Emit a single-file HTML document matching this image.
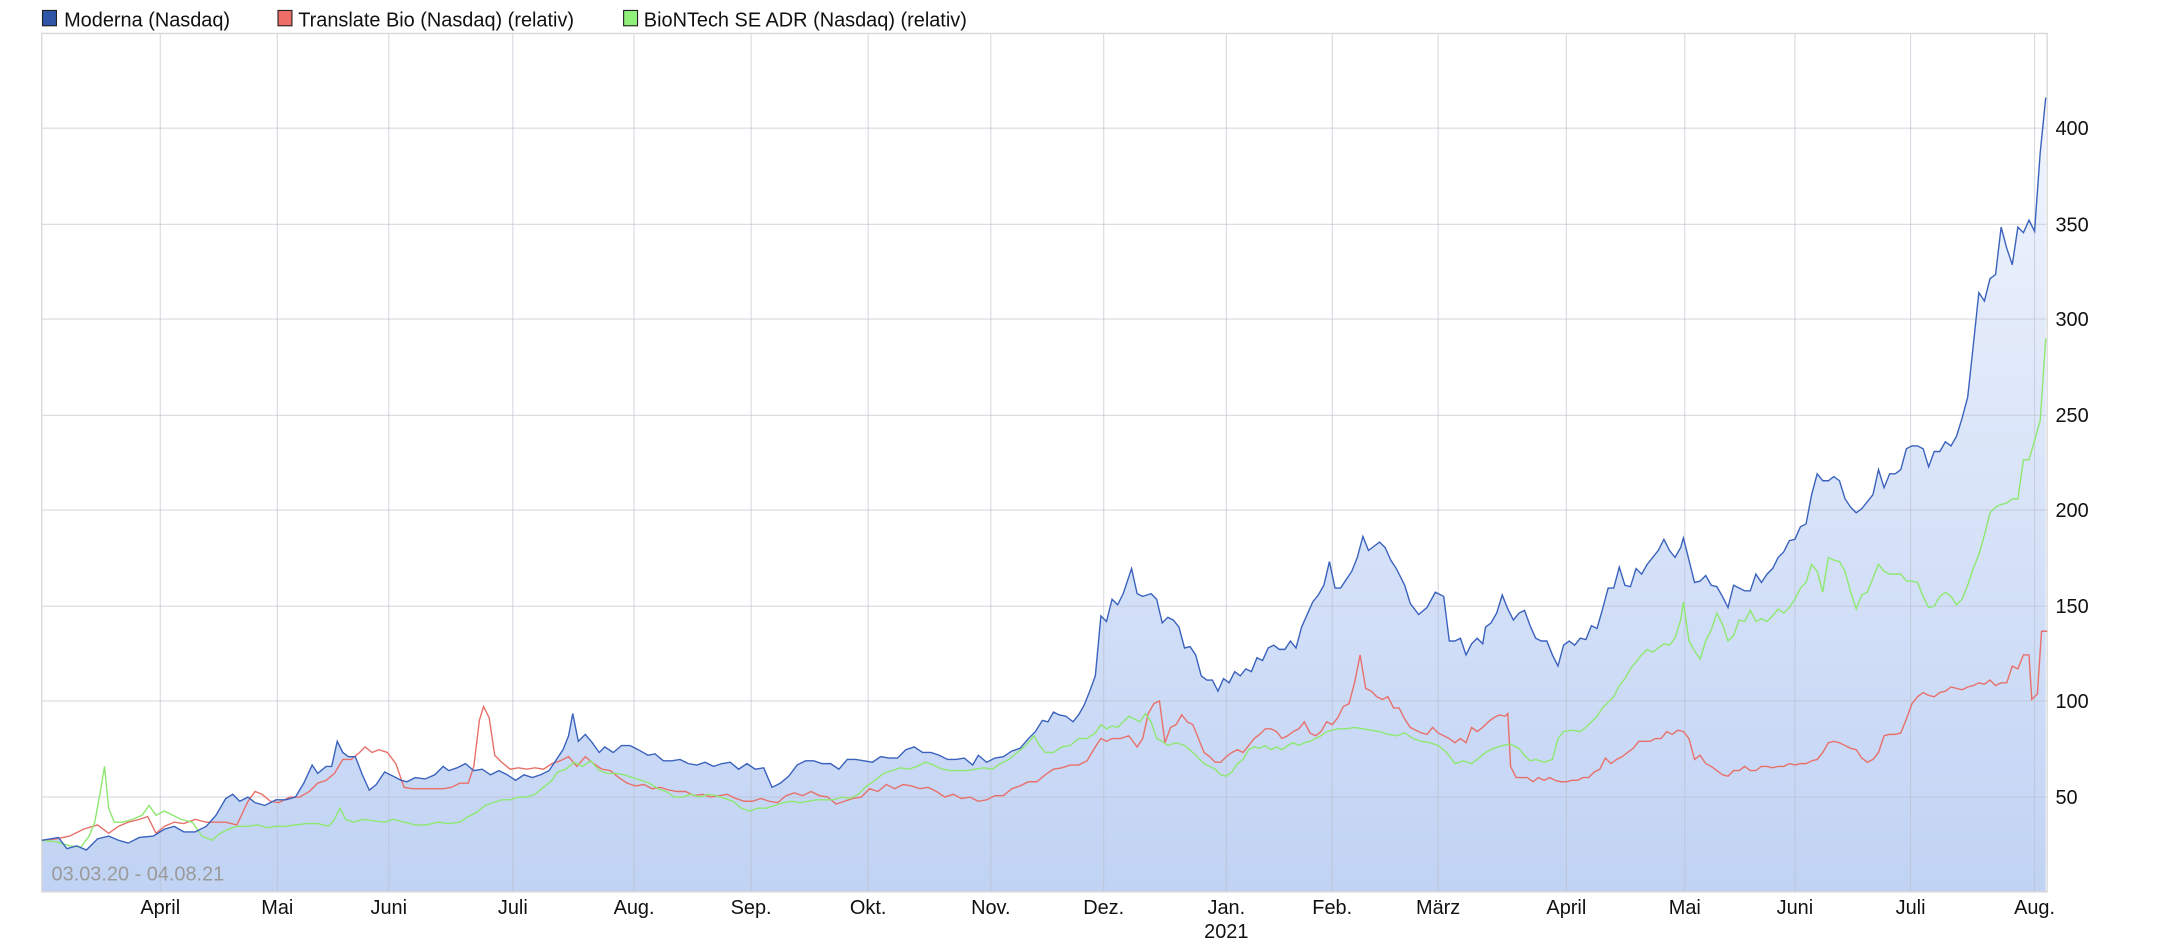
<!DOCTYPE html>
<html><head><meta charset="utf-8"><style>
html,body{margin:0;padding:0;background:#fff;}
svg{display:block;}
text{font-family:"Liberation Sans",sans-serif;}
</style></head><body>
<svg width="2160" height="942" viewBox="0 0 1550 676" preserveAspectRatio="none" xmlns="http://www.w3.org/2000/svg">
<defs>
<linearGradient id="g" x1="0" y1="24" x2="0" y2="640" gradientUnits="userSpaceOnUse">
<stop offset="0" stop-color="#f4f7fe"/>
<stop offset="1" stop-color="#c1d3f4"/>
</linearGradient>
</defs>
<!-- legend -->
<rect x="30.5" y="7.5" width="10" height="11" fill="#2e55a8" stroke="#222" stroke-width="0.8"/>
<text x="46" y="19" font-size="14.3" fill="#111">Moderna (Nasdaq)</text>
<rect x="199.5" y="7.5" width="10" height="11" fill="#ec6e66" stroke="#222" stroke-width="0.8"/>
<text x="214" y="19" font-size="14.3" fill="#111">Translate Bio (Nasdaq) (relativ)</text>
<rect x="447.5" y="7.5" width="10" height="11" fill="#90f07a" stroke="#222" stroke-width="0.8"/>
<text x="462" y="19" font-size="14.3" fill="#111">BioNTech SE ADR (Nasdaq) (relativ)</text>

<!-- fill -->
<polygon fill="url(#g)" points="30,640 30,603 42,601 48,609 55,607 62,610 70,602 78,600 85,603 92,605 100,601 110,600 118,595 125,593 132,597 140,597 148,593 155,585 162,573 167,570 172,575 178,572 183,576 190,578 198,574 205,574 212,572 218,562 224,549 228,555 234,550 238,550 242,532 246,540 250,543 255,543 260,556 265,567 270,563 276,554 282,557 288,560 292,561 298,558 305,559 312,556 318,550 322,553 328,551 334,548 340,553 346,552 352,556 358,553 364,556 370,560 376,556 382,558 388,556 394,553 398,547 404,538 408,528 411,512 415,532 420,527 425,533 430,540 434,536 440,540 446,535 452,535 458,538 465,542 470,541 476,546 482,546 488,545 494,548 500,549 506,547 512,550 518,548 524,547 530,552 536,548 542,552 548,551 554,565 560,562 566,557 572,549 578,546 584,546 590,548 596,548 602,552 608,545 614,545 620,546 626,547 632,543 638,544 644,544 650,538 656,536 662,540 668,540 674,542 680,545 686,545 692,544 698,549 702,542 708,547 714,544 720,543 726,539 732,537 738,530 743,525 748,517 752,518 756,511 760,513 765,514 770,518 774,513 778,506 782,496 786,485 790,442 794,446 798,430 802,434 806,426 812,408 816,426 820,428 826,426 830,430 834,447 838,443 842,445 846,450 850,465 854,464 858,470 862,485 866,488 870,488 874,496 878,487 882,490 886,482 890,485 894,480 898,482 902,472 906,474 910,465 914,463 918,466 922,466 926,460 930,465 934,450 938,441 942,432 946,427 950,420 954,403 958,422 962,422 966,416 970,410 974,400 978,385 982,395 986,392 990,389 994,393 998,402 1002,408 1008,420 1012,433 1018,441 1024,436 1030,425 1036,428 1040,460 1044,460 1048,458 1052,470 1056,462 1060,458 1064,462 1066,450 1070,447 1074,440 1078,427 1082,437 1086,445 1090,440 1094,438 1098,449 1102,458 1106,460 1110,460 1114,470 1118,478 1122,463 1126,460 1130,463 1134,458 1138,459 1142,449 1146,451 1150,437 1154,422 1158,422 1162,407 1166,420 1170,421 1174,408 1178,412 1182,405 1186,400 1190,395 1194,387 1198,395 1202,400 1206,393 1208,386 1212,402 1216,418 1220,417 1224,413 1228,420 1232,421 1236,428 1240,436 1244,420 1248,422 1252,424 1256,424 1260,412 1264,418 1268,412 1272,408 1276,400 1280,396 1284,388 1288,387 1292,378 1296,376 1300,355 1304,340 1308,345 1312,345 1316,342 1320,345 1324,358 1328,364 1332,368 1336,365 1340,360 1344,355 1348,337 1352,350 1356,340 1360,340 1364,337 1368,322 1372,320 1376,320 1380,322 1384,335 1388,324 1392,324 1396,317 1400,320 1404,313 1408,300 1412,285 1416,248 1420,210 1424,216 1428,200 1432,197 1436,163 1440,178 1444,190 1448,163 1452,167 1456,158 1460,166 1464,110 1468,70 1468,640"/>

<!-- grid -->
<g stroke="#b8bcc8" stroke-opacity="0.55" stroke-width="0.8">
<line x1="30" y1="92" x2="1469" y2="92"/><line x1="30" y1="161" x2="1469" y2="161"/>
<line x1="30" y1="229" x2="1469" y2="229"/><line x1="30" y1="298" x2="1469" y2="298"/>
<line x1="30" y1="366" x2="1469" y2="366"/><line x1="30" y1="435" x2="1469" y2="435"/>
<line x1="30" y1="503" x2="1469" y2="503"/><line x1="30" y1="572" x2="1469" y2="572"/>
<line x1="115" y1="24" x2="115" y2="640"/><line x1="199" y1="24" x2="199" y2="640"/>
<line x1="279" y1="24" x2="279" y2="640"/><line x1="368" y1="24" x2="368" y2="640"/>
<line x1="455" y1="24" x2="455" y2="640"/><line x1="539" y1="24" x2="539" y2="640"/>
<line x1="623" y1="24" x2="623" y2="640"/><line x1="711" y1="24" x2="711" y2="640"/>
<line x1="792" y1="24" x2="792" y2="640"/><line x1="880" y1="24" x2="880" y2="640"/>
<line x1="956" y1="24" x2="956" y2="640"/><line x1="1032" y1="24" x2="1032" y2="640"/>
<line x1="1124" y1="24" x2="1124" y2="640"/><line x1="1209" y1="24" x2="1209" y2="640"/>
<line x1="1288" y1="24" x2="1288" y2="640"/><line x1="1371" y1="24" x2="1371" y2="640"/>
<line x1="1460" y1="24" x2="1460" y2="640"/>
</g>
<rect x="30" y="24" width="1439" height="616" fill="none" stroke="#d8d8d8" stroke-width="1"/>

<text x="37" y="632" font-size="14.3" fill="#9a9a9a">03.03.20 - 04.08.21</text>

<!-- red -->
<polyline fill="none" stroke="#e8706a" stroke-width="1" points="30,603 40,602 50,600 60,595 70,592 78,598 85,593 92,590 100,588 106,586 112,598 118,593 125,590 132,591 140,588 148,590 155,590 162,590 170,592 178,575 183,568 188,570 194,575 200,576 208,572 215,572 222,568 228,562 234,560 240,555 246,545 252,545 258,540 262,536 267,540 272,538 278,540 284,548 290,565 296,566 302,566 310,566 318,566 324,565 330,562 336,562 340,550 344,517 347,507 351,515 355,542 360,547 366,552 372,551 378,552 384,551 390,552 396,548 402,546 408,543 414,550 420,543 426,548 432,552 438,553 444,558 450,562 456,564 462,563 468,566 474,565 480,567 486,568 492,568 498,571 504,570 510,572 516,571 522,570 528,573 534,575 540,575 546,573 552,575 558,576 564,571 570,569 576,571 582,568 588,571 594,572 600,577 606,575 612,573 618,572 624,566 630,568 636,563 642,566 648,563 654,564 660,566 666,565 672,568 678,572 684,570 690,573 696,572 702,575 708,574 714,571 720,571 726,566 732,564 738,561 744,561 750,556 756,552 762,551 768,549 774,549 780,546 786,536 790,530 794,532 798,530 804,530 810,528 816,536 820,530 824,512 828,505 832,503 836,533 840,522 844,520 848,513 852,518 856,520 860,530 864,540 868,543 872,547 876,547 880,543 884,540 888,538 892,540 896,535 900,530 904,527 908,523 912,523 916,525 920,530 924,528 928,525 932,523 936,518 940,526 944,528 948,525 952,518 956,520 960,515 964,507 968,505 972,490 976,470 980,494 984,496 988,500 992,502 996,500 1000,508 1004,508 1008,516 1012,522 1016,524 1020,526 1024,527 1028,522 1032,526 1036,528 1040,530 1044,533 1048,530 1052,533 1056,522 1060,525 1064,522 1068,518 1072,515 1076,513 1080,514 1082,512 1084,550 1088,558 1092,558 1096,558 1100,561 1104,558 1108,560 1112,558 1116,560 1120,561 1124,561 1128,560 1132,560 1136,558 1140,558 1144,554 1148,552 1152,544 1156,548 1160,545 1164,543 1168,540 1172,537 1176,532 1180,532 1184,532 1188,530 1192,530 1196,525 1200,527 1204,524 1208,525 1212,530 1216,545 1220,542 1224,548 1228,550 1232,553 1236,556 1240,557 1244,553 1248,553 1252,550 1256,553 1260,553 1264,550 1268,550 1272,551 1276,550 1280,550 1284,548 1288,549 1292,548 1296,548 1300,546 1304,545 1308,540 1312,533 1316,532 1320,533 1324,535 1328,537 1332,538 1336,544 1340,547 1344,545 1348,540 1352,528 1356,527 1360,527 1364,526 1368,516 1372,505 1376,500 1380,497 1384,499 1388,500 1392,497 1396,496 1400,493 1404,494 1408,495 1412,493 1416,492 1420,490 1424,491 1428,488 1432,492 1436,490 1440,490 1444,478 1448,480 1452,470 1456,470 1458,502 1462,498 1465,453 1469,453"/>

<!-- green -->
<polyline fill="none" stroke="#8ee870" stroke-width="1" points="30,603 40,604 50,607 58,608 64,600 68,590 72,568 75,550 78,580 82,590 88,590 95,588 102,585 107,578 112,585 118,582 124,585 130,588 138,590 145,600 152,603 158,598 164,595 170,593 178,593 185,592 192,594 198,593 205,593 212,592 220,591 228,591 236,593 240,588 244,580 248,588 254,590 260,588 268,589 276,590 282,588 290,590 298,592 306,592 314,590 322,591 330,590 336,586 342,583 348,578 354,576 360,574 366,574 372,572 378,572 384,570 390,565 396,560 400,554 406,552 412,547 418,550 424,546 430,553 436,555 442,555 448,556 454,558 460,560 466,562 472,566 478,568 484,572 490,572 496,570 502,572 508,570 514,571 520,573 526,575 532,580 538,582 544,580 550,580 556,578 562,576 568,575 574,576 580,575 586,574 592,574 598,574 604,572 610,573 616,570 622,564 628,560 634,555 640,553 646,551 652,552 658,550 664,547 670,549 676,552 682,553 688,553 694,553 700,552 706,551 712,552 718,548 724,545 730,540 736,535 742,528 746,535 750,540 756,540 762,536 768,535 774,530 780,530 786,526 790,520 794,523 798,521 802,522 806,518 810,514 814,516 818,518 822,512 826,518 830,530 834,532 838,535 844,533 850,535 856,540 860,544 864,548 868,550 872,552 876,556 880,557 884,554 888,548 892,545 896,538 900,536 904,537 908,535 912,538 916,536 920,538 924,535 928,533 932,535 936,533 940,532 944,530 948,528 952,525 956,524 960,523 966,523 972,522 978,523 984,524 990,525 996,527 1002,528 1008,526 1014,530 1020,532 1026,533 1032,535 1038,540 1044,548 1050,546 1056,548 1060,545 1066,540 1072,537 1078,535 1084,534 1090,537 1094,542 1098,546 1102,545 1108,547 1114,545 1118,530 1122,525 1128,524 1134,525 1138,522 1142,518 1146,514 1150,508 1154,504 1158,500 1162,492 1166,487 1170,480 1174,475 1178,470 1182,466 1186,468 1190,465 1194,462 1198,463 1202,458 1206,445 1208,432 1212,460 1216,467 1220,473 1224,460 1228,452 1232,440 1236,448 1240,460 1244,456 1248,445 1252,446 1256,438 1260,446 1264,444 1268,446 1272,442 1276,437 1280,440 1284,436 1288,430 1292,422 1296,418 1300,405 1304,410 1308,425 1312,400 1316,402 1320,403 1324,410 1328,425 1332,437 1336,427 1340,425 1344,415 1348,405 1352,410 1356,412 1360,412 1364,412 1368,417 1372,417 1376,418 1380,428 1384,436 1388,435 1392,428 1396,425 1400,428 1404,434 1408,430 1412,420 1416,408 1420,398 1424,384 1428,368 1432,364 1436,362 1440,361 1444,358 1448,358 1452,330 1456,330 1460,316 1464,302 1468,243"/>

<!-- blue -->
<polyline fill="none" stroke="#3a62bd" stroke-width="1" points="30,603 42,601 48,609 55,607 62,610 70,602 78,600 85,603 92,605 100,601 110,600 118,595 125,593 132,597 140,597 148,593 155,585 162,573 167,570 172,575 178,572 183,576 190,578 198,574 205,574 212,572 218,562 224,549 228,555 234,550 238,550 242,532 246,540 250,543 255,543 260,556 265,567 270,563 276,554 282,557 288,560 292,561 298,558 305,559 312,556 318,550 322,553 328,551 334,548 340,553 346,552 352,556 358,553 364,556 370,560 376,556 382,558 388,556 394,553 398,547 404,538 408,528 411,512 415,532 420,527 425,533 430,540 434,536 440,540 446,535 452,535 458,538 465,542 470,541 476,546 482,546 488,545 494,548 500,549 506,547 512,550 518,548 524,547 530,552 536,548 542,552 548,551 554,565 560,562 566,557 572,549 578,546 584,546 590,548 596,548 602,552 608,545 614,545 620,546 626,547 632,543 638,544 644,544 650,538 656,536 662,540 668,540 674,542 680,545 686,545 692,544 698,549 702,542 708,547 714,544 720,543 726,539 732,537 738,530 743,525 748,517 752,518 756,511 760,513 765,514 770,518 774,513 778,506 782,496 786,485 790,442 794,446 798,430 802,434 806,426 812,408 816,426 820,428 826,426 830,430 834,447 838,443 842,445 846,450 850,465 854,464 858,470 862,485 866,488 870,488 874,496 878,487 882,490 886,482 890,485 894,480 898,482 902,472 906,474 910,465 914,463 918,466 922,466 926,460 930,465 934,450 938,441 942,432 946,427 950,420 954,403 958,422 962,422 966,416 970,410 974,400 978,385 982,395 986,392 990,389 994,393 998,402 1002,408 1008,420 1012,433 1018,441 1024,436 1030,425 1036,428 1040,460 1044,460 1048,458 1052,470 1056,462 1060,458 1064,462 1066,450 1070,447 1074,440 1078,427 1082,437 1086,445 1090,440 1094,438 1098,449 1102,458 1106,460 1110,460 1114,470 1118,478 1122,463 1126,460 1130,463 1134,458 1138,459 1142,449 1146,451 1150,437 1154,422 1158,422 1162,407 1166,420 1170,421 1174,408 1178,412 1182,405 1186,400 1190,395 1194,387 1198,395 1202,400 1206,393 1208,386 1212,402 1216,418 1220,417 1224,413 1228,420 1232,421 1236,428 1240,436 1244,420 1248,422 1252,424 1256,424 1260,412 1264,418 1268,412 1272,408 1276,400 1280,396 1284,388 1288,387 1292,378 1296,376 1300,355 1304,340 1308,345 1312,345 1316,342 1320,345 1324,358 1328,364 1332,368 1336,365 1340,360 1344,355 1348,337 1352,350 1356,340 1360,340 1364,337 1368,322 1372,320 1376,320 1380,322 1384,335 1388,324 1392,324 1396,317 1400,320 1404,313 1408,300 1412,285 1416,248 1420,210 1424,216 1428,200 1432,197 1436,163 1440,178 1444,190 1448,163 1452,167 1456,158 1460,166 1464,110 1468,70"/>

<!-- y labels -->
<g font-size="14.3" fill="#111">
<text x="1475" y="97">400</text><text x="1475" y="166">350</text>
<text x="1475" y="234">300</text><text x="1475" y="303">250</text>
<text x="1475" y="371">200</text><text x="1475" y="440">150</text>
<text x="1475" y="508">100</text><text x="1475" y="577">50</text>
</g>
<!-- x labels -->
<g font-size="14.3" fill="#111" text-anchor="middle">
<text x="115" y="656">April</text><text x="199" y="656">Mai</text>
<text x="279" y="656">Juni</text><text x="368" y="656">Juli</text>
<text x="455" y="656">Aug.</text><text x="539" y="656">Sep.</text>
<text x="623" y="656">Okt.</text><text x="711" y="656">Nov.</text>
<text x="792" y="656">Dez.</text><text x="880" y="656">Jan.</text>
<text x="880" y="673">2021</text>
<text x="956" y="656">Feb.</text><text x="1032" y="656">März</text>
<text x="1124" y="656">April</text><text x="1209" y="656">Mai</text>
<text x="1288" y="656">Juni</text><text x="1371" y="656">Juli</text>
<text x="1460" y="656">Aug.</text>
</g>
</svg>
</body></html>
